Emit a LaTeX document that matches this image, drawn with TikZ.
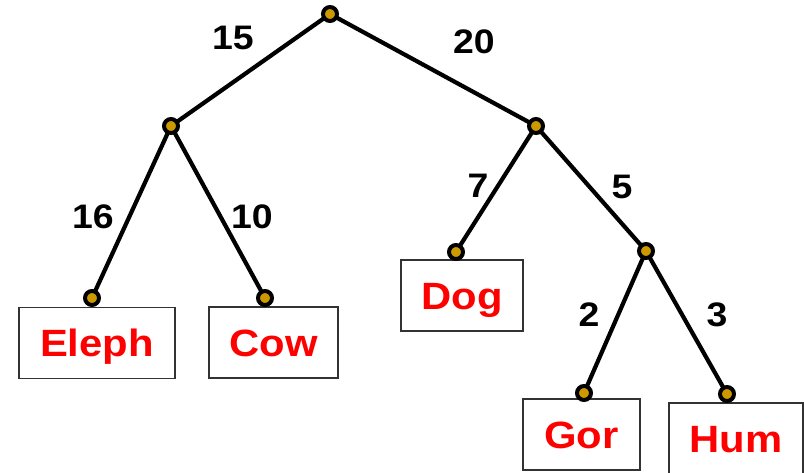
\documentclass[tikz,border=0pt]{standalone}
\usepackage{fontspec}
\setmainfont{Liberation Sans}[FakeStretch=1.1]
\definecolor{dotgold}{RGB}{204,153,0}
\definecolor{boxline}{RGB}{50,50,50}
\begin{document}
\begin{tikzpicture}[x=1pt,y=-1pt,
  branch/.style={line width=4.2pt},
  knot/.style={circle,draw=black,fill=dotgold,line width=4pt,minimum size=14pt,inner sep=0pt},
  leafbox/.style={draw=boxline,line width=1.6pt,minimum height=71pt,inner sep=0pt,
    font=\fontsize{38}{42}\selectfont\bfseries,text=red,text height=27.2pt,text depth=0pt},
  wt/.style={inner sep=0pt,font=\fontsize{34}{38}\selectfont\bfseries,text height=24.3pt,text depth=0pt}]
\useasboundingbox (0,0) rectangle (804,472);

% branching points and leaf attachments
\coordinate (root) at (330,14);
\coordinate (l) at (171,126);
\coordinate (r) at (536,126);
\coordinate (h) at (646,251);
\coordinate (e) at (92,298);
\coordinate (c) at (265,298);
\coordinate (d) at (456,252);
\coordinate (g) at (584,393);
\coordinate (u) at (727,394);

% leaf boxes
\node[leafbox,minimum width=156pt] (eleph) at (97,343) {Eleph};
\node[leafbox,minimum width=129pt] (cow) at (273.5,342.5) {Cow};
\node[leafbox,minimum width=122pt] (dog) at (462,295.5) {Dog};
\node[leafbox,minimum width=117pt] (gor) at (581.5,434.5) {Gor};
\node[leafbox,minimum width=134pt] (hum) at (736,438.5) {Hum};

% tree branches
\draw[branch] (root) -- (l);
\draw[branch] (root) -- (r);
\draw[branch] (l) -- (e);
\draw[branch] (l) -- (c);
\draw[branch] (r) -- (d);
\draw[branch] (r) -- (h);
\draw[branch] (h) -- (g);
\draw[branch] (h) -- (u);

% joints
\foreach \p in {root,l,r,h,e,c,d,g,u}
  \node[knot] (k-\p) at (\p) {};

% branch lengths
\node[wt] (w15) at (233,37) {15};
\node[wt] (w20) at (474,41) {20};
\node[wt] (w16) at (93,216) {16};
\node[wt] (w10) at (252,216) {10};
\node[wt] (w7) at (478,185) {7};
\node[wt] (w5) at (622,186) {5};
\node[wt] (w2) at (589,314) {2};
\node[wt] (w3) at (717,314) {3};
\end{tikzpicture}
\end{document}
